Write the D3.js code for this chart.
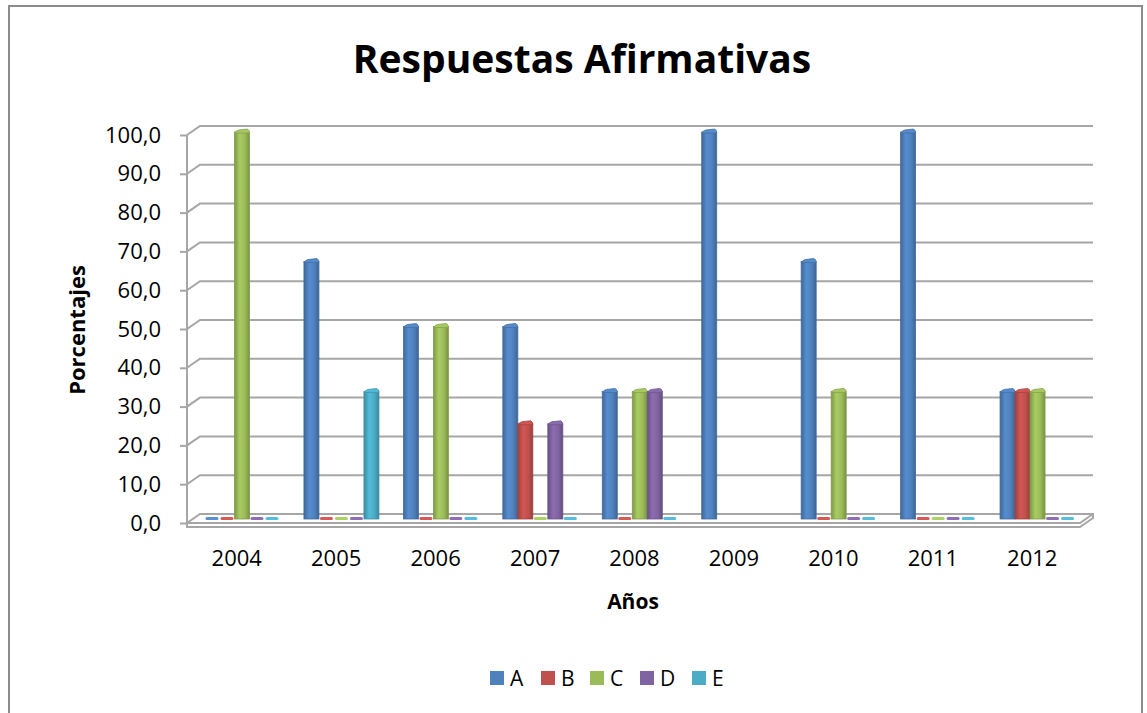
<!DOCTYPE html>
<html>
<head>
<meta charset="utf-8">
<script src="https://cdn.jsdelivr.net/npm/d3@7"></script>
<style>
  body { margin: 0; background: #fff; }
  svg { display: block; font-family: "Open Sans", "Noto Sans", sans-serif; }
</style>
</head>
<body>
<svg width="1147" height="713"></svg>
<script>
var years = ["2004", "2005", "2006", "2007", "2008", "2009", "2010", "2011", "2012"];
var seriesNames = ["A", "B", "C", "D", "E"];
var colors = ["#4f81bd", "#c0504d", "#9bbb59", "#8064a2", "#4bacc6"];
// one array per series, null = no value
var valA = [0, 66.7, 50, 50, 33.3, 100, 66.7, 100, 33.3];
var valB = [0, 0, 0, 25, 0, null, 0, 0, 33.3];
var valC = [100, 0, 50, 0, 33.3, null, 33.3, 0, 33.3];
var valD = [0, 0, 0, 25, 33.3, null, 0, 0, 0];
var valE = [0, 33.3, 0, 0, 0, null, 0, 0, 0];
var yTicks = [0, 10, 20, 30, 40, 50, 60, 70, 80, 90, 100];

var series = [valA, valB, valC, valD, valE];
var svg = d3.select("svg");

// outer frame
svg.append("rect").attr("x", 9).attr("y", 6).attr("width", 1133).attr("height", 720)
  .attr("fill", "#fff").attr("stroke", "#8c8c8c").attr("stroke-width", 2);

var dx = 13, dy = -9;
var yFront = d3.scaleLinear().domain([0, 100]).range([523, 135]);
var yBar = d3.scaleLinear().domain([0, 100]).range([519, 130]);
var x0 = d3.scaleBand().domain(years).range([187, 1082]);
var x1 = d3.scaleBand().domain(seriesNames).range([17.5, 92.5]);

// gradients for the bars
var defs = svg.append("defs");
seriesNames.forEach(function(s, i) {
  var c = d3.color(colors[i]);
  var g = defs.append("linearGradient").attr("id", "g" + s).attr("x1", 0).attr("x2", 1).attr("y1", 0).attr("y2", 0);
  g.append("stop").attr("offset", "0%").attr("stop-color", c.darker(0.6));
  g.append("stop").attr("offset", "35%").attr("stop-color", c.brighter(0.25));
  g.append("stop").attr("offset", "70%").attr("stop-color", c);
  g.append("stop").attr("offset", "100%").attr("stop-color", c.darker(0.7));
});

// gridlines on back wall, with diagonal on the left wall
var grid = svg.append("g");
yTicks.forEach(function(t) {
  var yf = yFront(t);
  if (t > 0) {
    grid.append("path")
      .attr("d", "M187," + yf + "L" + (187 + dx) + "," + (yf + dy) + "L1093," + (yf + dy))
      .attr("fill", "none").attr("stroke", "#a6a6a6").attr("stroke-width", 2);
  }
});

// floor slab
var y0 = yFront(0);
svg.append("path")
  .attr("d", "M187," + (y0 + 4) + "L1080," + (y0 + 4) + "L1093," + (y0 - 5) + "L1093," + (y0 - 9) +
    "L" + (187 + dx) + "," + (y0 - 9) + "L187," + y0 + "Z")
  .attr("fill", "#fff").attr("stroke", "#a6a6a6").attr("stroke-width", 2);
svg.append("path")
  .attr("d", "M187," + y0 + "L1080," + y0 + "L1093," + (y0 - 9))
  .attr("fill", "none").attr("stroke", "#a6a6a6").attr("stroke-width", 2);

// left axis wall line and ticks
svg.append("line").attr("x1", 187).attr("x2", 187).attr("y1", yFront(100)).attr("y2", y0 + 4)
  .attr("stroke", "#a6a6a6").attr("stroke-width", 2);
var yAxis = d3.axisLeft(yFront).tickValues(yTicks).tickSize(7).tickPadding(19)
  .tickFormat(function(d) { return d3.format(".1f")(d).replace(".", ","); });
var ya = svg.append("g").attr("transform", "translate(187,0)").call(yAxis);
ya.select(".domain").remove();
ya.selectAll(".tick line").attr("stroke", "#a6a6a6").attr("stroke-width", 2);
ya.selectAll(".tick text").attr("font-size", 22).attr("fill", "#000")
  .attr("font-family", "Open Sans, sans-serif");

// bars
var flat = [];
years.forEach(function(y, yi) {
  seriesNames.forEach(function(s, si) {
    var v = series[si][yi];
    if (v !== null) flat.push({ year: y, s: s, si: si, v: v });
  });
});

var bw = x1.bandwidth();
var bars = svg.append("g").selectAll("g.bar").data(flat).enter().append("g").attr("class", "bar");
bars.each(function(d) {
  var g = d3.select(this);
  var x = x0(d.year) + x1(d.s);
  var c = d3.color(colors[d.si]);
  if (d.v === 0) {
    g.append("rect").attr("x", x + 1).attr("y", yBar(0) - 2).attr("width", bw - 2).attr("height", 3)
      .attr("fill", c.brighter(0.3)).attr("rx", 1.5);
    return;
  }
  var top = yBar(d.v);
  g.append("rect").attr("x", x).attr("y", top + 2).attr("width", bw).attr("height", yBar(0) - top - 2)
    .attr("fill", "url(#g" + d.s + ")").attr("stroke", c.darker(0.5)).attr("stroke-width", 0.8);
  g.append("path")
    .attr("d", "M" + x + "," + (top + 3) + "Q" + (x + 1) + "," + (top + 1) + " " + (x + 4) + "," + top +
      "L" + (x + bw - 2) + "," + (top - 1) + "Q" + (x + bw) + "," + (top) + " " + (x + bw) + "," + (top + 3) + "Z")
    .attr("fill", c.brighter(0.2)).attr("stroke", c.darker(0.4)).attr("stroke-width", 0.8);
});

// x labels
svg.append("g").selectAll("text").data(years).enter().append("text")
  .attr("x", function(d) { return x0(d) + x0.bandwidth() / 2; })
  .attr("y", 566).attr("text-anchor", "middle").attr("font-size", 22).text(function(d) { return d; });

// titles
svg.append("text").attr("x", 582).attr("y", 73).attr("text-anchor", "middle")
  .attr("font-size", 39).attr("font-weight", "bold").text("Respuestas Afirmativas");
svg.append("text").attr("x", 633).attr("y", 609).attr("text-anchor", "middle")
  .attr("font-size", 21).attr("font-weight", "bold").text("Años");
svg.append("text").attr("transform", "translate(85,330) rotate(-90)").attr("text-anchor", "middle")
  .attr("font-size", 22).attr("font-weight", "bold").text("Porcentajes");

// legend
var legX = [490, 541, 590, 640, 692];
var leg = svg.append("g").selectAll("g").data(seriesNames).enter().append("g")
  .attr("transform", function(d, i) { return "translate(" + legX[i] + ",671)"; });
leg.append("rect").attr("width", 14).attr("height", 14).attr("fill", function(d, i) { return colors[i]; });
leg.append("text").attr("x", 20).attr("y", 15).attr("font-size", 21).text(function(d) { return d; });
</script>
</body>
</html>
